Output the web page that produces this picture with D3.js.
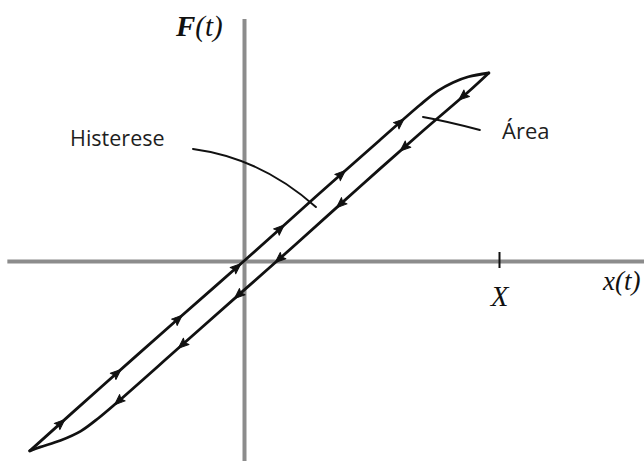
<!DOCTYPE html>
<html>
<head>
<meta charset="utf-8">
<script src="https://cdn.jsdelivr.net/npm/d3@7/dist/d3.min.js"></script>
<style>
  html, body { margin: 0; padding: 0; background: #fff; overflow: hidden; }
  svg { display: block; }
</style>
</head>
<body>
<svg id="chart" width="644" height="461"></svg>
<script>
// Hysteresis loop: restoring force F(t) plotted against displacement x(t).
// Displacement is in units of the amplitude X, force in units of the peak force.

// Loading branch (moving right): bottom-left tip up to the top-right tip
const upperX = [-0.84, -0.56, -0.26, 0.00, 0.28, 0.53, 0.69, 0.76, 0.82, 0.88, 0.96];
const upperF = [-1.01, -0.67, -0.31, 0.00, 0.34, 0.64, 0.83, 0.905, 0.95, 0.98, 1.00];

// Unloading branch (moving left): top-right tip back down to the bottom-left tip
const lowerX = [0.96, 0.88, 0.70, 0.45, 0.20, 0.00, -0.25, -0.50, -0.57, -0.64, -0.72, -0.80, -0.84];
const lowerF = [1.00, 0.90, 0.69, 0.39, 0.085, -0.155, -0.455, -0.755, -0.835, -0.905, -0.955, -0.99, -1.01];

// Where the direction arrows sit on each branch (displacement values)
const upperArrowX = [-0.72, -0.50, -0.26, -0.03, 0.14, 0.38, 0.61];
const lowerArrowX = [0.86, 0.63, 0.38, 0.14, -0.02, -0.24, -0.49];

// Ticks on the displacement axis
const xTickValues = [1];
const xTickLabels = ["X"];

// Axis extents (data units)
const xAxisExtent = [-0.93, 1.6];
const fAxisExtent = [-1.07, 1.29];

// Annotations: label text and its leader curve (start, control, end in data units)
const annotationTexts = ["Histerese", "Área"];
const histereseLeader = [[-0.20, 0.596], [0.067, 0.548], [0.282, 0.287]];
const areaLeader = [[0.702, 0.766], [0.79, 0.745], [0.925, 0.697]];

const svg = d3.select("#chart");

// One displacement unit and one force unit on screen
const x = d3.scaleLinear().domain([0, 1]).range([244, 499]);
const y = d3.scaleLinear().domain([0, 1]).range([261, 73]);

const axisColor = "#8c8c8c";
const ink = "#111";

// Horizontal axis with the amplitude tick
const xAxisScale = x.copy().domain(xAxisExtent).range(xAxisExtent.map(x));
const xAxis = d3.axisBottom(xAxisScale)
  .tickValues(xTickValues)
  .tickFormat((d, i) => xTickLabels[i])
  .tickSizeInner(7)
  .tickSizeOuter(0)
  .tickPadding(14);

const gx = svg.append("g")
  .attr("transform", `translate(0,${y(0)})`)
  .call(xAxis);
gx.select(".domain").attr("stroke", axisColor).attr("stroke-width", 4);
gx.selectAll(".tick line")
  .attr("stroke", ink)
  .attr("stroke-width", 2)
  .attr("y1", -9);
gx.selectAll(".tick text")
  .attr("fill", ink)
  .attr("font-family", "'Liberation Serif', 'Times New Roman', serif")
  .attr("font-style", "italic")
  .attr("font-size", 29)
  .attr("dy", "0.82em");

// Vertical axis
const fAxisScale = y.copy().domain(fAxisExtent).range(fAxisExtent.map(y));
const gy = svg.append("g")
  .attr("transform", `translate(${x(0)},0)`)
  .call(d3.axisLeft(fAxisScale).tickValues([]).tickSizeOuter(0));
gy.select(".domain").attr("stroke", axisColor).attr("stroke-width", 4);

// Axis titles
const serif = "'Liberation Serif', 'Times New Roman', serif";
const fTitle = svg.append("text")
  .attr("x", x(-0.267)).attr("y", y(1.197))
  .attr("font-family", serif).attr("font-style", "italic")
  .attr("font-size", 29).attr("fill", ink);
fTitle.append("tspan").attr("font-weight", "bold").text("F");
fTitle.append("tspan").text("(t)");

svg.append("text")
  .attr("x", x(1.408)).attr("y", y(-0.154))
  .attr("font-family", serif).attr("font-style", "italic")
  .attr("font-size", 27).attr("fill", ink)
  .text("x(t)");

// The loop itself
const line = d3.line()
  .x(d => x(d[0]))
  .y(d => y(d[1]))
  .curve(d3.curveCatmullRom.alpha(0.5));

const upper = upperX.map((v, i) => [v, upperF[i]]);
const lower = lowerX.map((v, i) => [v, lowerF[i]]);

svg.selectAll("path.branch")
  .data([upper, lower])
  .join("path")
  .attr("class", "branch")
  .attr("d", line)
  .attr("fill", "none")
  .attr("stroke", ink)
  .attr("stroke-width", 2.8)
  .attr("stroke-linejoin", "round")
  .attr("stroke-linecap", "round");

// Direction arrows: place each on its branch and turn it along the travel direction
function arrowAt(branch, xv) {
  for (let i = 0; i < branch.length - 1; i++) {
    const a = branch[i], b = branch[i + 1];
    const lo = Math.min(a[0], b[0]), hi = Math.max(a[0], b[0]);
    if (xv >= lo && xv <= hi) {
      const t = (xv - a[0]) / (b[0] - a[0]);
      const fv = a[1] + t * (b[1] - a[1]);
      const ang = Math.atan2(y(b[1]) - y(a[1]), x(b[0]) - x(a[0])) * 180 / Math.PI;
      return { px: x(xv), py: y(fv), ang };
    }
  }
  return null;
}

const arrows = [
  ...upperArrowX.map(v => arrowAt(upper, v)),
  ...lowerArrowX.map(v => arrowAt(lower, v))
].filter(Boolean);

svg.selectAll("path.arrow")
  .data(arrows)
  .join("path")
  .attr("class", "arrow")
  .attr("d", "M6,0 L-4.5,-4.2 L-2.5,0 L-4.5,4.2 Z")
  .attr("transform", d => `translate(${d.px},${d.py}) rotate(${d.ang})`)
  .attr("fill", ink)
  .attr("stroke", ink)
  .attr("stroke-width", 1)
  .attr("stroke-linejoin", "round");

// Annotation leaders
const leader = pts => {
  const [p0, c, p1] = pts;
  return `M${x(p0[0])},${y(p0[1])} Q${x(c[0])},${y(c[1])} ${x(p1[0])},${y(p1[1])}`;
};
svg.selectAll("path.leader")
  .data([histereseLeader, areaLeader])
  .join("path")
  .attr("class", "leader")
  .attr("d", leader)
  .attr("fill", "none")
  .attr("stroke", ink)
  .attr("stroke-width", 2)
  .attr("stroke-linecap", "round");

// Annotation labels
const sans = "'Open Sans', 'Noto Sans', sans-serif";
svg.append("text")
  .attr("x", x(-0.682)).attr("y", y(0.612))
  .attr("font-family", sans).attr("font-size", 21.5).attr("fill", "#1e1e1e")
  .text(annotationTexts[0]);
svg.append("text")
  .attr("x", x(1.012)).attr("y", y(0.649))
  .attr("font-family", sans).attr("font-size", 22).attr("fill", "#1e1e1e")
  .text(annotationTexts[1]);
</script>
</body>
</html>
